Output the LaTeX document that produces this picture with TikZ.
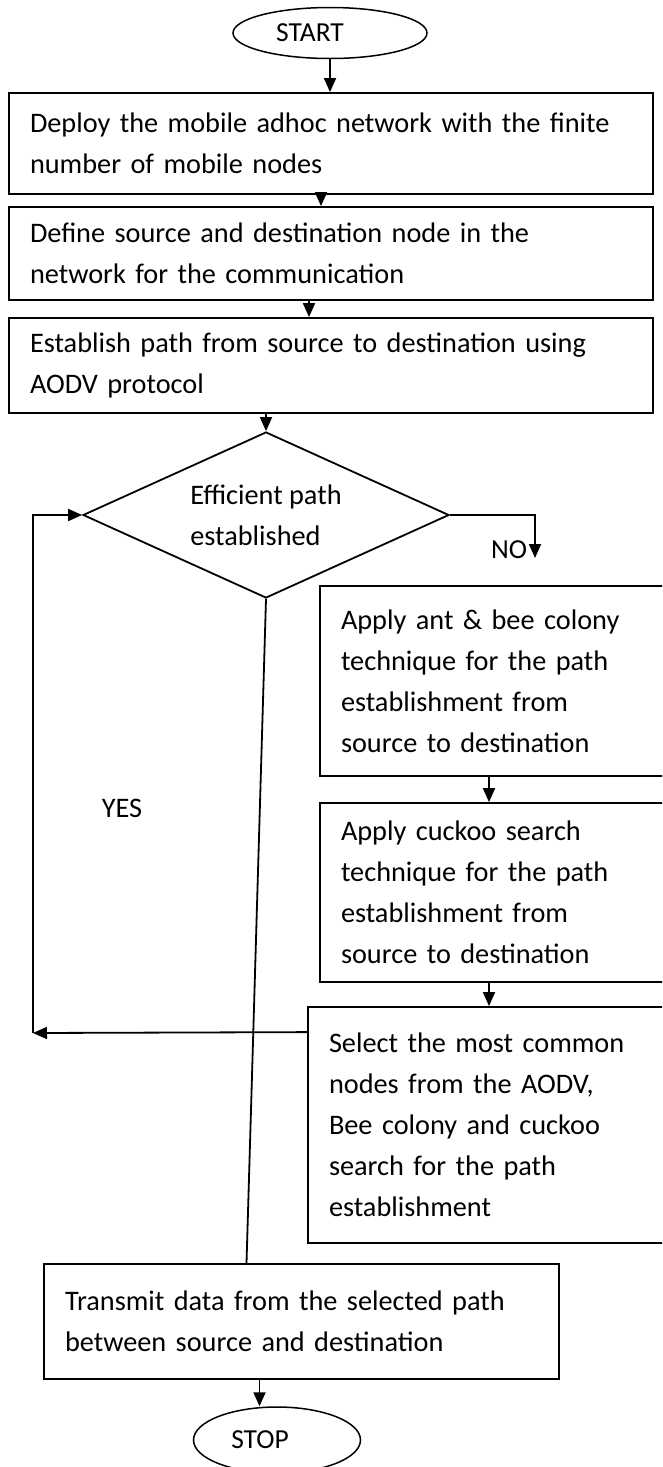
\documentclass[tikz,border=0pt]{standalone}
\usepackage{fontspec}
\setmainfont{Carlito}
\usetikzlibrary{positioning,shapes.geometric,arrows.meta}

\begin{document}
\begin{tikzpicture}[x=1pt, y=-1pt, >={Triangle[length=14pt,width=12pt]},
	every node/.style={font=\fontsize{28.3}{41}\selectfont},
	stepbox/.style={rectangle, draw, line width=1.8pt, inner xsep=21pt, inner ysep=0pt, align=left},
	term/.style={ellipse, draw, line width=1.5pt, inner sep=0pt},
	termtext/.style={font=\fontsize{27.5}{30}\selectfont},
	conn/.style={line width=1.8pt}]
	% Frame
	\useasboundingbox (0,0) rectangle (662,1467);
	\clip (0,0) rectangle (662,1467);

	% Place nodes
	\node [term, minimum width=194pt, minimum height=51pt, label={[termtext, xshift=-20pt]center:START}] (start) at (330,33) {};
	\node [stepbox, text width=602pt, minimum height=101pt] (deploy) at (331,143.5) {Deploy the mobile adhoc network with the finite\\number of mobile nodes};
	\node [stepbox, below of=deploy, node distance=110pt, text width=602pt, minimum height=93pt] (define) {Define source and destination node in the\\network for the communication};
	\node [stepbox, below of=define, node distance=112pt, text width=602pt, minimum height=95pt] (establish) {Establish path from source to destination using\\AODV protocol};
	\node [diamond, draw, line width=1.8pt, aspect=2.2, inner sep=0pt, minimum width=366pt, minimum height=166pt, align=left] (check) at (266,515) {Efficient path\\established};
	\node [stepbox, text width=302pt, minimum height=190pt] (antbee) at (492,681) {Apply ant \& bee colony\\technique for the path\\establishment from\\source to destination};
	\node [stepbox, below of=antbee, node distance=211.5pt, text width=302pt, minimum height=179pt] (cuckoo) {Apply cuckoo search\\technique for the path\\establishment from\\source to destination};
	\node [stepbox, text width=314pt, minimum height=236pt] (common) at (486,1125) {Select the most common\\nodes from the AODV,\\Bee colony and cuckoo\\search for the path\\establishment};
	\node [stepbox, text width=473pt, minimum height=115pt] (transmit) at (301.5,1321.5) {Transmit data from the selected path\\between source and destination};
	\node [term, minimum width=167pt, minimum height=66pt, label={[termtext, xshift=-17pt]center:STOP}] (stop) at (277,1440) {};
	\node (yes) at (122,808) {YES};
	\node [termtext] (no) at (509,550) {NO};
	\coordinate (noend) at (535,558);
	\coordinate (loop) at (33,1033);

	% Connectors
	\draw [conn,->] (start.south) -- (start.south |- deploy.north);
	\draw [conn,->] ([xshift=-10pt]deploy.south) -- ([xshift=-10pt]define.north);
	\draw [conn,->] ([xshift=-22pt]define.south) -- ([xshift=-22pt]establish.north);
	\draw [conn,->] (check.north |- establish.south) -- (check.north);
	\draw [conn,->] (check.east) -| (noend);
	\draw [conn,->] ([xshift=-3pt]antbee.south) -- ([xshift=-3pt]cuckoo.north);
	\draw [conn,->] ([xshift=-3pt]cuckoo.south) -- ([xshift=-3pt]cuckoo.south |- common.north);
	\draw [conn,->] ([yshift=-26pt]common.north west) -- (loop);
	\draw [conn,->] (loop) |- (check.west);
	\draw [conn] (check.south) -- ([xshift=-55pt]transmit.north);
	\draw [conn,->] ([xshift=-42pt]transmit.south) -- ([xshift=-42pt]transmit.south |- stop.north);
\end{tikzpicture}
\end{document}
